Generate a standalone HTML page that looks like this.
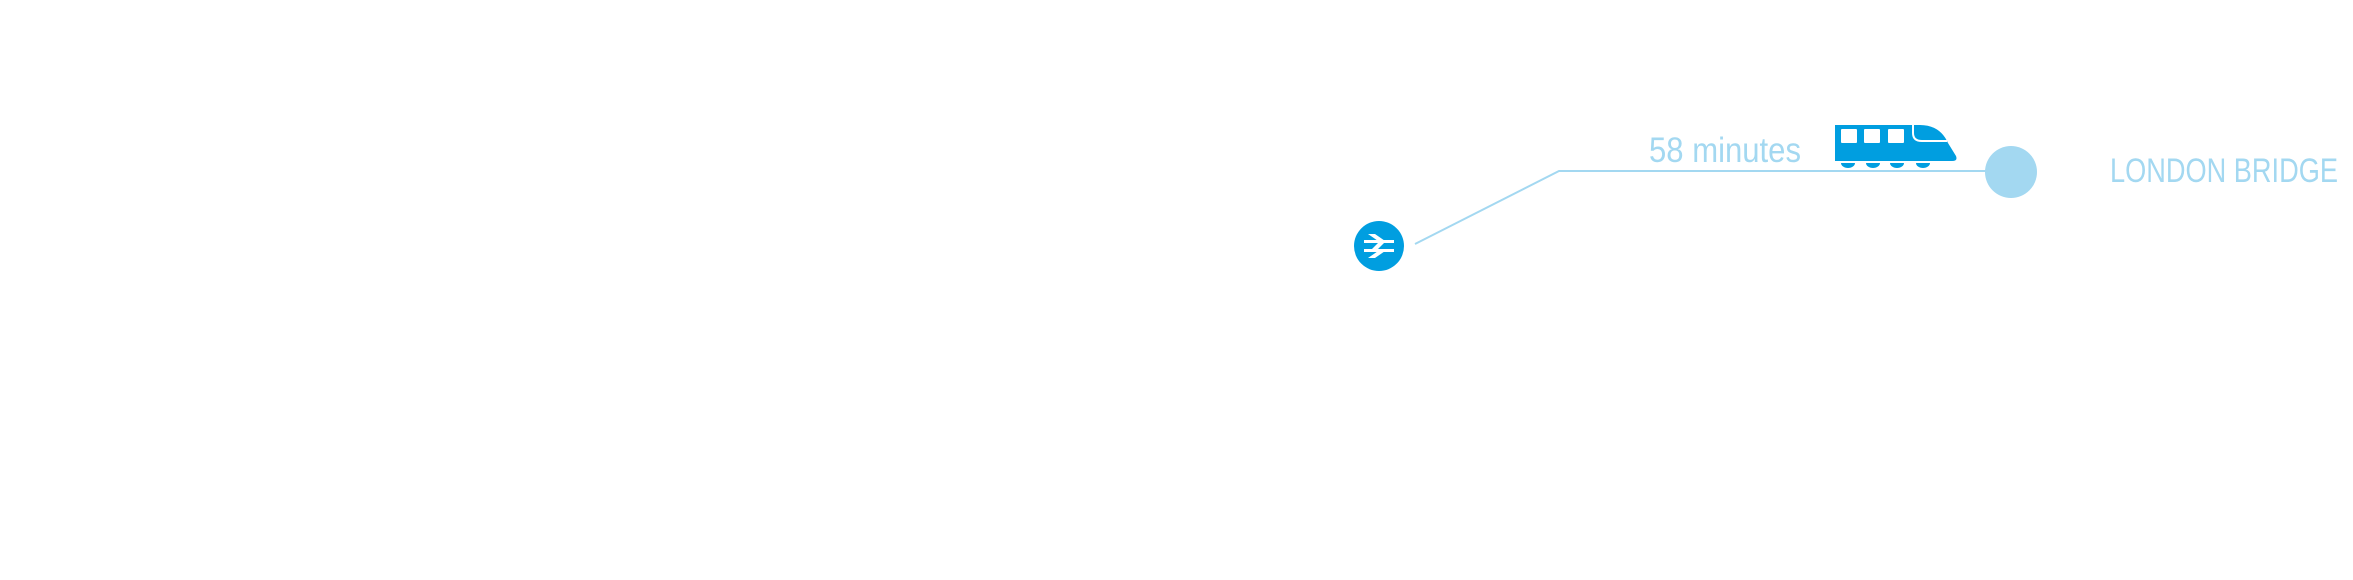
<!DOCTYPE html>
<html><head><meta charset="utf-8"><style>
html,body{margin:0;padding:0;background:#fff;width:2353px;height:580px;overflow:hidden}
</style></head><body>
<svg width="2353" height="580" viewBox="0 0 2353 580" xmlns="http://www.w3.org/2000/svg">
<polyline points="1415,244 1559,171 1988,171" fill="none" stroke="#a3d8f1" stroke-width="2"/>
<circle cx="2011" cy="172" r="26" fill="#a3d8f1"/>
<circle cx="1379" cy="246" r="25" fill="#009ee0"/>
<g fill="#fff">
<rect x="1364" y="240" width="30" height="3"/>
<rect x="1364" y="249" width="30" height="3"/>
<path d="M1368,234 L1375,234 L1388,243 L1381,243 Z"/>
<path d="M1381,249 L1388,249 L1375,258 L1368,258 Z"/>
<path d="M1378,243 L1384,243 L1378,249 L1372,249 Z"/>
</g>
<text x="1649" y="162" font-family="'Liberation Sans Narrow','Liberation Sans',sans-serif" font-size="35" fill="#a3d8f1" textLength="152" lengthAdjust="spacingAndGlyphs">58 minutes</text>
<text x="2110" y="182" font-family="'Liberation Sans Narrow','Liberation Sans',sans-serif" font-size="34" fill="#a3d8f1" textLength="228" lengthAdjust="spacingAndGlyphs">LONDON BRIDGE</text>
<g fill="#009ee0">
<path d="M1835,125 L1920,125 Q1940,125 1948,143 L1956,156 Q1958,161 1952,161 L1835,161 Z"/>
<path d="M1841,163 h14 a7,5 0 0 1 -14,0 Z"/>
<path d="M1866,163 h14 a7,5 0 0 1 -14,0 Z"/>
<path d="M1890,163 h14 a7,5 0 0 1 -14,0 Z"/>
<path d="M1916,163 h14 a7,5 0 0 1 -14,0 Z"/>
</g>
<g fill="#fff">
<rect x="1841" y="129" width="16" height="14" rx="1"/>
<rect x="1864" y="129" width="16" height="14" rx="1"/>
<rect x="1888" y="129" width="16" height="14" rx="1"/>
</g>
<path d="M1913,125 L1913,133 Q1913,141 1922,141 L1947,141" fill="none" stroke="#fff" stroke-width="2"/>
</svg>
</body></html>
